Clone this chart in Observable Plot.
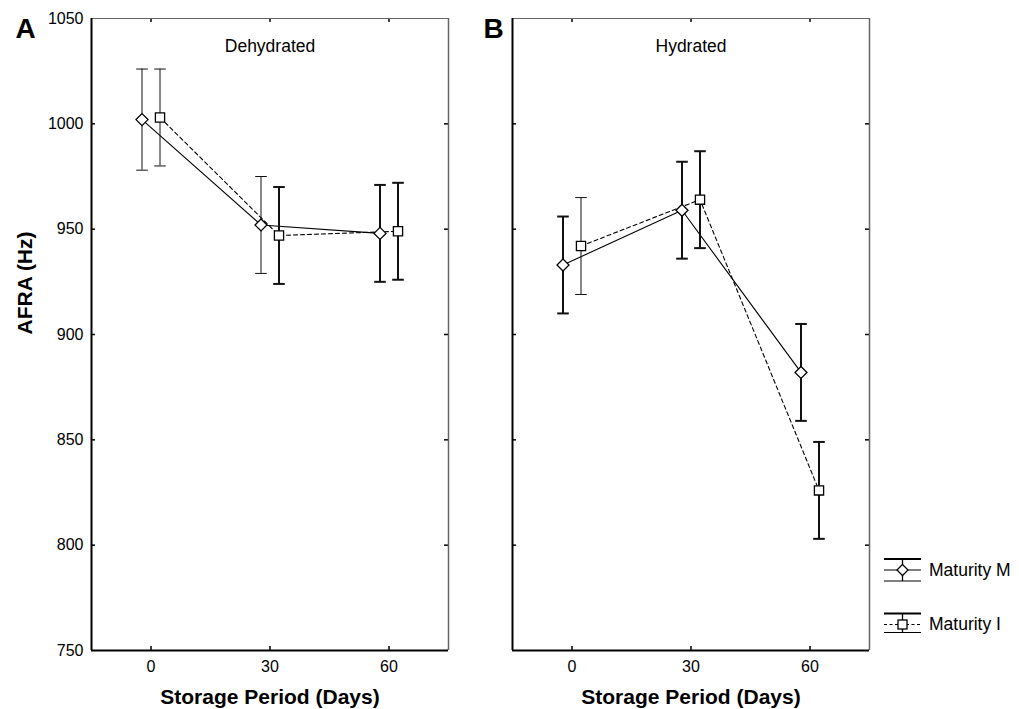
<!DOCTYPE html>
<html><head><meta charset="utf-8">
<script src="https://cdn.jsdelivr.net/npm/d3@7"></script>
<script src="https://cdn.jsdelivr.net/npm/@observablehq/plot@0.6"></script>
<style>
body{margin:0;background:#fff;}
#wrap{position:relative;width:1019px;height:709px;overflow:hidden;background:#fff;font-family:"Liberation Sans",Arial,sans-serif;}
#wrap > svg{position:absolute;top:0;}
</style></head><body><div id="wrap"></div>
<script>
// ---- data ----
const days = [0, 30, 60];
const xTicks = [0, 30, 60];
const yTicks = [750, 800, 850, 900, 950, 1000, 1050];
const panels = ["Dehydrated", "Hydrated"];
const panelLetters = ["A", "B"];
const seriesNames = ["Maturity M", "Maturity I"];
const dehydratedM = [1002, 952, 948];
const dehydratedMErr = [24, 23, 23];
const dehydratedI = [1003, 947, 949];
const dehydratedIErr = [23, 23, 23];
const hydratedM = [933, 959, 882];
const hydratedMErr = [23, 23, 23];
const hydratedI = [942, 964, 826];
const hydratedIErr = [23, 23, 23];
const yLabel = "AFRA (Hz)";
const xLabel = "Storage Period (Days)";

// ---- build table ----
const source = {
  "Dehydrated": {"Maturity M": [dehydratedM, dehydratedMErr], "Maturity I": [dehydratedI, dehydratedIErr]},
  "Hydrated": {"Maturity M": [hydratedM, hydratedMErr], "Maturity I": [hydratedI, hydratedIErr]}
};
const rows = [];
for (const p of panels) for (const s of seriesNames) {
  const [m, e] = source[p][s];
  days.forEach((d, i) => rows.push({panel: p, series: s, day: d, mean: m[i], lo: m[i] - e[i], hi: m[i] + e[i]}));
}

// ---- styles ----
const xDomain = [-15, 75];
const yDomain = [750, 1050];
const font = '"Liberation Sans", Arial, sans-serif';
const thinBars = new Set(["Dehydrated|Maturity M|0", "Dehydrated|Maturity I|0", "Dehydrated|Maturity M|30", "Hydrated|Maturity I|0"]);
const rad = (size) => Math.sqrt(size / Math.PI);
const capSym = {draw(c, size) { const r = rad(size); c.moveTo(-r, 0); c.lineTo(r, 0); }};
const diamondSym = {draw(c, size) { const r = rad(size); c.moveTo(0, -r); c.lineTo(r, 0); c.lineTo(0, r); c.lineTo(-r, 0); c.closePath(); }};
const squareSym = {draw(c, size) { const r = rad(size); c.moveTo(-r, -r); c.lineTo(r, -r); c.lineTo(r, r); c.lineTo(-r, r); c.closePath(); }};
const seriesStyle = {
  "Maturity M": {dx: -9, dash: null, symbol: diamondSym, r: 6},
  "Maturity I": {dx: 9, dash: "4,3", symbol: squareSym, r: 4.6}
};

const plotW = 357, plotH = 632, mTop = 18, mBottom = 59, svgH = 709;

function panel(pi) {
  const p = panels[pi];
  const isLeft = pi === 0;
  const mL = isLeft ? 91 : 30, mR = 2;
  const data = rows.filter(d => d.panel === p);
  const marks = [];
  const inner = yTicks.slice(1, -1);
  // inward ticks
  marks.push(Plot.tickX(xTicks, {x: d => d, insetBottom: plotH - 4, stroke: "black", strokeWidth: 1.5}));
  marks.push(Plot.tickX(xTicks, {x: d => d, insetTop: plotH - 4, stroke: "black", strokeWidth: 1.5}));
  marks.push(Plot.tickY(inner, {y: d => d, insetLeft: plotW - 4, stroke: "black", strokeWidth: 1.5}));
  marks.push(Plot.tickY(inner, {y: d => d, insetRight: plotW - 4, stroke: "black", strokeWidth: 1.5}));
  // frame
  marks.push(Plot.ruleY([yDomain[1]], {stroke: "#666", strokeWidth: 1.2}));
  marks.push(Plot.ruleX([xDomain[1]], {stroke: "#666", strokeWidth: 1.5}));
  marks.push(Plot.ruleY([yDomain[0]], {stroke: "black", strokeWidth: 2}));
  marks.push(Plot.ruleX([xDomain[0]], {stroke: "black", strokeWidth: 2}));
  // axes text
  marks.push(Plot.axisX(xTicks, {tickSize: 0, tickPadding: 10, label: null, fontSize: 16, tickFormat: d => String(d)}));
  if (isLeft) {
    marks.push(Plot.axisY(yTicks, {tickSize: 0, tickPadding: 8, label: null, fontSize: 16, tickFormat: d => String(d)}));
    marks.push(Plot.text([yLabel], {frameAnchor: "left", rotate: -90, dx: -66, fontSize: 21, fontWeight: "bold"}));
  }
  marks.push(Plot.text([xLabel], {frameAnchor: "bottom", dy: 53, lineAnchor: "bottom", fontSize: 21, fontWeight: "bold"}));
  marks.push(Plot.text([p], {frameAnchor: "top", dy: 33.5, lineAnchor: "bottom", fontSize: 17.5}));
  marks.push(Plot.text([panelLetters[pi]], {frameAnchor: "top-left", dx: isLeft ? -76 : -29, dy: 19, textAnchor: "start", lineAnchor: "bottom", fontSize: 28, fontWeight: "bold"}));
  // series
  for (const s of seriesNames) {
    const st = seriesStyle[s];
    const sd = data.filter(d => d.series === s);
    const sw = d => thinBars.has(`${d.panel}|${d.series}|${d.day}`) ? 1 : 2;
    marks.push(Plot.line(sd, {x: "day", y: "mean", dx: st.dx, stroke: "black", strokeWidth: 1.1, strokeDasharray: st.dash}));
    marks.push(Plot.ruleX(sd, {x: "day", y1: "lo", y2: "hi", dx: st.dx, stroke: "#111", strokeWidth: sw}));
    marks.push(Plot.dot(sd, {x: "day", y: "hi", dx: st.dx, symbol: capSym, r: 5.8, fill: "none", stroke: "#111", strokeWidth: sw}));
    marks.push(Plot.dot(sd, {x: "day", y: "lo", dx: st.dx, symbol: capSym, r: 5.8, fill: "none", stroke: "#111", strokeWidth: sw}));
  }
  for (const s of seriesNames) {
    const st = seriesStyle[s];
    const sd = data.filter(d => d.series === s);
    marks.push(Plot.dot(sd, {x: "day", y: "mean", dx: st.dx, symbol: st.symbol, r: st.r, fill: "white", stroke: "black", strokeWidth: 1.3}));
  }
  const svg = Plot.plot({
    width: mL + plotW + mR, height: svgH,
    marginLeft: mL, marginRight: mR, marginTop: mTop, marginBottom: mBottom,
    x: {domain: xDomain},
    y: isLeft ? {domain: yDomain} : {domain: yDomain, axis: null},
    style: {fontFamily: font, fontSize: "16px", color: "black", background: "white", overflow: "visible"},
    marks
  });
  svg.style.left = (isLeft ? 0 : 512 - mL) + "px";
  return svg;
}

const wrap = document.getElementById("wrap");
wrap.appendChild(panel(0));
wrap.appendChild(panel(1));

// ---- legend ----
const NS = "http://www.w3.org/2000/svg";
const leg = document.createElementNS(NS, "svg");
leg.setAttribute("width", 149); leg.setAttribute("height", 110);
leg.style.left = "870px"; leg.style.top = "545px";
const glyphs = [
  {name: seriesNames[0], topY: 14, midY: 25, botY: 36, dash: null, shape: "diamond", textY: 31},
  {name: seriesNames[1], topY: 68.5, midY: 79.5, botY: 87.5, dash: "3,2.5", shape: "square", textY: 85}
];
let html = "";
for (const g of glyphs) {
  html += `<line x1="14" x2="51" y1="${g.topY}" y2="${g.topY}" stroke="black" stroke-width="2"/>`;
  html += `<line x1="14" x2="51" y1="${g.midY}" y2="${g.midY}" stroke="black" stroke-width="1.1" ${g.dash ? `stroke-dasharray="${g.dash}"` : ""}/>`;
  html += `<line x1="14" x2="51" y1="${g.botY}" y2="${g.botY}" stroke="black" stroke-width="1.1"/>`;
  html += `<line x1="32.5" x2="32.5" y1="${g.topY}" y2="${g.botY}" stroke="black" stroke-width="1.3"/>`;
  if (g.shape === "diamond") {
    html += `<path d="M32.5,${g.midY - 5.5}L38,${g.midY}L32.5,${g.midY + 5.5}L27,${g.midY}Z" fill="white" stroke="black" stroke-width="1.3"/>`;
  } else {
    html += `<rect x="28" y="${g.midY - 4.5}" width="9" height="9" fill="white" stroke="black" stroke-width="1.3"/>`;
  }
  html += `<text x="59" y="${g.textY}" font-family='${font}' font-size="17.5" fill="black">${g.name}</text>`;
}
leg.innerHTML = html;
wrap.appendChild(leg);
</script>
</body></html>
